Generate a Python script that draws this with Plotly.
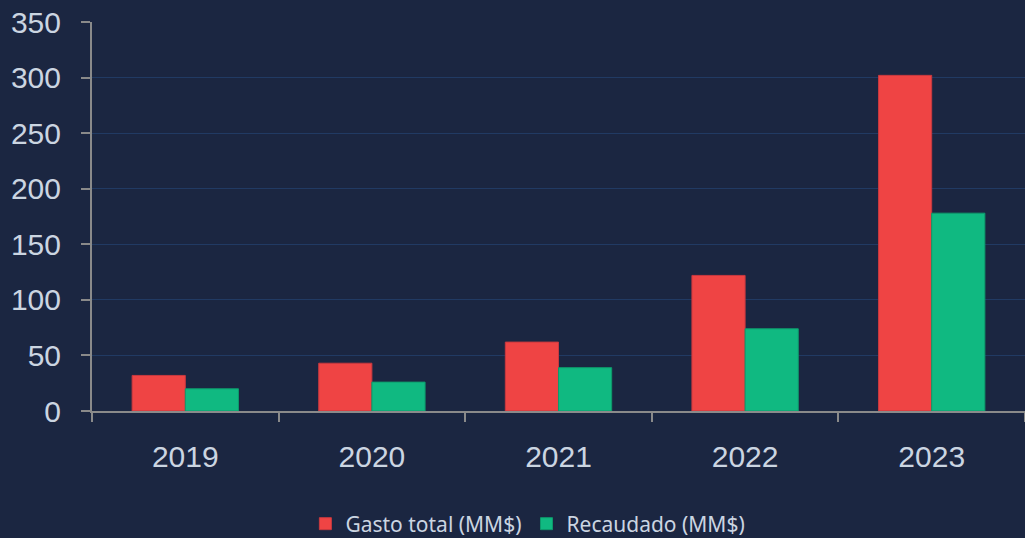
import plotly.graph_objects as go

years = ["2019", "2020", "2021", "2022", "2023"]
gasto_total = [32, 43, 62, 122, 302]
recaudado = [20, 26, 39, 74, 178]
y_ticks = [0, 50, 100, 150, 200, 250, 300, 350]

bg = "#1b2641"
fig = go.Figure()
fig.add_trace(go.Bar(x=years, y=gasto_total, name="Gasto total (MM$)",
                     marker=dict(color="#ef4444", line=dict(color="#c8393f", width=1))))
fig.add_trace(go.Bar(x=years, y=recaudado, name="Recaudado (MM$)",
                     marker=dict(color="#10b981", line=dict(color="#0e9a6c", width=1))))

fig.update_layout(
    width=1025, height=538,
    paper_bgcolor=bg, plot_bgcolor=bg,
    margin=dict(l=92, r=0, t=22, b=127),
    barmode="group", bargap=0.43, bargroupgap=0,
    showlegend=True,
    legend=dict(orientation="h", xref="container", yref="container",
                x=0.515, xanchor="center", y=0.026, yanchor="middle",
                font=dict(family="Noto Sans", size=21, color="#cbd5e1"),
                bgcolor="rgba(0,0,0,0)"),
    font=dict(family="Liberation Sans, Arial", color="#cbd5e1"),
)
fig.update_xaxes(
    type="category", range=[-0.5, 4.5],
    showline=True, linecolor="#8a8a8a", linewidth=2,
    ticks="outside", tickson="boundaries", ticklen=9, tickwidth=2, tickcolor="#8a8a8a",
    tickfont=dict(size=30, color="#cbd5e1"), ticklabelstandoff=18,
    showgrid=False, zeroline=False,
)
fig.update_yaxes(
    range=[0, 350], tickvals=y_ticks,
    showline=True, linecolor="#8a8a8a", linewidth=2,
    ticks="outside", ticklen=9, tickwidth=2, tickcolor="#8a8a8a",
    tickfont=dict(size=30, color="#cbd5e1"), ticklabelstandoff=14,
    showgrid=True, gridcolor="#213a63", gridwidth=1, zeroline=False,
)
fig.write_html("out.html", config={"displayModeBar": False},
               post_script="document.body.style.margin='0';document.body.style.background='%s';" % bg)
